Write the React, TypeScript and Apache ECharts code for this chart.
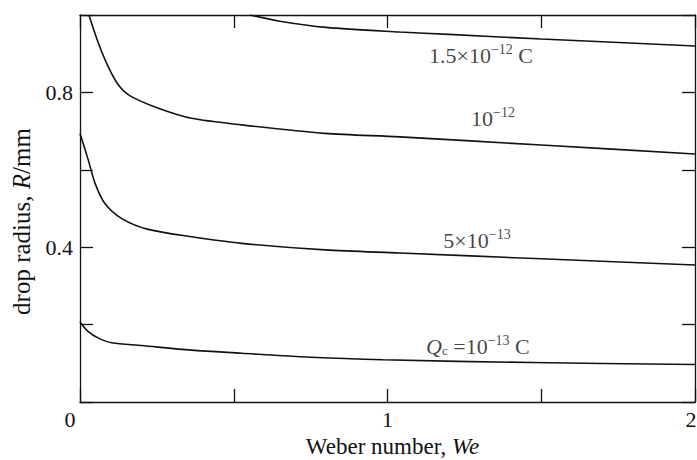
import React, { useEffect, useRef } from "react";
import * as echarts from "echarts";

const FONT = "Liberation Serif";

// Curves: Weber number (x) and drop radius R/mm (y)
const we15 = [0.553, 0.65, 0.8, 1.04, 1.2, 1.5, 2.0];
const r15 = [1.0, 0.984, 0.968, 0.956, 0.95, 0.938, 0.92];

const we10 = [0.029, 0.06, 0.092, 0.125, 0.163, 0.255, 0.363, 0.526, 0.797, 1.04, 1.5, 2.0];
const r10 = [1.0, 0.927, 0.866, 0.819, 0.791, 0.759, 0.733, 0.716, 0.694, 0.685, 0.664, 0.641];

const we5 = [0, 0.027, 0.049, 0.081, 0.136, 0.222, 0.363, 0.526, 0.797, 1.04, 1.5, 2.0];
const r5 = [0.694, 0.625, 0.565, 0.513, 0.474, 0.446, 0.427, 0.41, 0.393, 0.385, 0.37, 0.354];

const we1 = [0, 0.027, 0.06, 0.103, 0.2, 0.363, 0.526, 0.715, 0.986, 1.47, 2.0];
const r1 = [0.207, 0.182, 0.165, 0.153, 0.146, 0.134, 0.126, 0.117, 0.109, 0.102, 0.097];

// Curve labels (rich text) and their anchor positions in data units
const labelTexts = [
  "{n|1.5×10}{sup|−12}{n| C}",
  "{n|10}{sup|−12}",
  "{n|5×10}{sup|−13}",
  "{q|Q}{sub|c}{n| =10}{sup|−13}{n| C}",
];
const labelX = [1.304, 1.343, 1.291, 1.294];
const labelY = [0.897, 0.734, 0.419, 0.147];

const xTicks = [0, 1, 2];
const yTicks = [0, 0.4, 0.8];

const xName = "Weber number, ";
const xNameItalic = "We";
const yName = "drop radius, ";
const yNameItalic = "R";
const yNameUnit = "/mm";

const zip = (xs: number[], ys: number[]) => xs.map((x, i) => [x, ys[i]]);

export default function App() {
  const ref = useRef<HTMLDivElement>(null);
  useEffect(() => {
    if (!ref.current) return;
    const chart = echarts.init(ref.current, null, { renderer: "svg" });
    const ink = "#111";
    const lineStyle = { color: ink, width: 1.6 };
    const curve = (xs: number[], ys: number[]) => ({
      type: "line",
      data: zip(xs, ys),
      showSymbol: false,
      symbol: "none",
      smooth: 0.3,
      lineStyle,
      silent: true,
      z: 3,
    });
    const rich = {
      n: { fontFamily: FONT, fontSize: 22, color: ink, lineHeight: 24, verticalAlign: "bottom" },
      q: { fontFamily: FONT, fontSize: 22, fontStyle: "italic", color: ink, lineHeight: 24, verticalAlign: "bottom" },
      sup: { fontFamily: FONT, fontSize: 14, color: ink, lineHeight: 14, verticalAlign: "top" },
      sub: { fontFamily: FONT, fontSize: 13, color: ink, lineHeight: 13, verticalAlign: "bottom" },
    };
    const axisLine = { show: true, onZero: false, lineStyle: { color: ink, width: 1.3 } };
    const axisTick = { show: true, inside: true, length: 13, lineStyle: { color: ink, width: 1.3 } };
    chart.setOption({
      animation: false,
      backgroundColor: "#fff",
      grid: {
        left: 80,
        right: 2,
        top: 15,
        bottom: 58,
        containLabel: false,
        outerBoundsMode: "none",
      },
      xAxis: [
        {
          type: "value",
          position: "bottom",
          min: 0,
          max: 2,
          interval: 0.5,
          axisLine,
          axisTick,
          splitLine: { show: false },
          axisLabel: {
            margin: 6,
            fontFamily: FONT,
            fontSize: 22,
            color: ink,
            hideOverlap: false,
            formatter: (v: number) => {
              if (!xTicks.includes(v)) return "";
              if (v === 0) return "{z|0}";
              if (v === 2) return "{e|2}";
              return String(v);
            },
            rich: {
              z: { fontFamily: FONT, fontSize: 22, color: ink, padding: [0, 20, 0, 0] },
              e: { fontFamily: FONT, fontSize: 22, color: ink, padding: [0, 8, 0, 0] },
            },
          },
          name: `${xName}{i|${xNameItalic}}`,
          nameLocation: "middle",
          nameGap: 32,
          nameTextStyle: {
            fontFamily: FONT,
            fontSize: 23,
            color: ink,
            padding: [0, 0, 0, 10],
            rich: { i: { fontFamily: FONT, fontSize: 23, fontStyle: "italic", color: ink } },
          },
        },
        {
          type: "value",
          position: "top",
          min: 0,
          max: 2,
          interval: 0.5,
          axisLine,
          axisTick,
          splitLine: { show: false },
          axisLabel: { show: false },
        },
      ],
      yAxis: [
        {
          type: "value",
          position: "left",
          min: 0,
          max: 1,
          interval: 0.2,
          axisLine,
          axisTick,
          splitLine: { show: false },
          axisLabel: {
            margin: 7,
            fontFamily: FONT,
            fontSize: 22,
            color: ink,
            formatter: (v: number) => {
              const hit = yTicks.find((t) => Math.abs(t - v) < 1e-6);
              return hit === undefined || hit === 0 ? "" : hit.toFixed(1);
            },
          },
          name: `${yName}{i|${yNameItalic}}${yNameUnit}`,
          nameLocation: "middle",
          nameRotate: 90,
          nameGap: 46,
          nameTextStyle: {
            fontFamily: FONT,
            fontSize: 25,
            color: ink,
            padding: [0, 26, 0, 0],
            rich: { i: { fontFamily: FONT, fontSize: 25, fontStyle: "italic", color: ink } },
          },
        },
        {
          type: "value",
          position: "right",
          min: 0,
          max: 1,
          interval: 0.2,
          axisLine,
          axisTick,
          splitLine: { show: false },
          axisLabel: { show: false },
        },
      ],
      series: [
        curve(we15, r15),
        curve(we10, r10),
        curve(we5, r5),
        curve(we1, r1),
        {
          type: "scatter",
          data: labelX.map((x, i) => ({ value: [x, labelY[i]], text: labelTexts[i] })),
          symbolSize: 1,
          itemStyle: { color: "rgba(0,0,0,0)" },
          silent: true,
          z: 5,
          label: {
            show: true,
            position: "inside",
            formatter: (p: any) => p.data.text,
            rich,
          },
        },
      ],
    });
    return () => chart.dispose();
  }, []);
  return (
    <div
      ref={ref}
      style={{ position: "fixed", left: 0, top: 0, width: 697, height: 460, background: "#fff" }}
    />
  );
}
